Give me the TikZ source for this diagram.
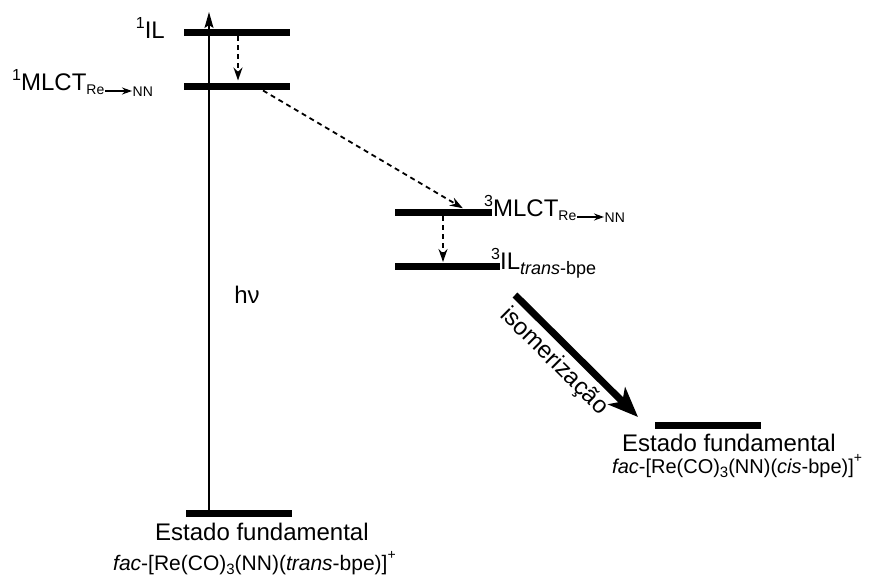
\documentclass[tikz,border=0pt]{standalone}
\usepackage{fontspec}
\setmainfont{Liberation Sans}
\usetikzlibrary{arrows.meta}

\newcommand{\spin}[1]{\raisebox{10pt}{\fontsize{16}{16}\selectfont #1}}
\newcommand{\renn}{\raisebox{-4pt}{\fontsize{14}{14}\selectfont Re\tikz[baseline]\draw[line width=1.4pt,-{Stealth[length=10pt,width=7pt]}] (0pt,4pt) -- (27pt,4pt);\raisebox{-2pt}{NN}}}
\newcommand{\fsub}[1]{\raisebox{-4pt}{\fontsize{15}{15}\selectfont #1}}
\newcommand{\fsup}[1]{\raisebox{11pt}{\fontsize{14}{14}\selectfont #1}}

\begin{document}
\begin{tikzpicture}[x=1pt,y=-1pt,
  level/.style={fill=black,minimum height=7pt,inner sep=0pt,outer sep=0pt},
  lbl/.style={font=\fontsize{24}{28}\selectfont,inner sep=0pt},
  formula/.style={font=\fontsize{21}{24}\selectfont,inner sep=0pt},
  decay/.style={line width=1.8pt,dash pattern=on 5pt off 4pt,-{Stealth[length=13pt,width=9pt]}},
  excite/.style={line width=1.3pt,-{Stealth[length=16pt,width=9pt,inset=3pt]}},
  iso/.style={line width=7pt,-{Stealth[length=30pt,width=24pt,inset=8pt]}}]
  \useasboundingbox (0,0) rectangle (871,577);

  \node[level,minimum width=106pt] (IL1) at (237,33) {};
  \node[level,minimum width=106pt] (MLCT1) at (237,87) {};
  \node[level,minimum width=97pt] (MLCT3) at (443.5,213) {};
  \node[level,minimum width=105pt] (IL3) at (447.5,267) {};
  \node[level,minimum width=106pt] (GStrans) at (239,513.5) {};
  \node[level,minimum width=106pt] (GScis) at (708,425.5) {};

  \node[lbl,anchor=base east] (tIL1) at (165,39) {\spin{1}IL};
  \node[lbl,anchor=base west] (tMLCT1) at (12,91) {\spin{1}MLCT\renn};
  \node[lbl,anchor=base west] (tMLCT3) at (484,217) {\spin{3}MLCT\renn};
  \node[lbl,anchor=base west] (tIL3) at (491,270) {\spin{3}IL\raisebox{-5pt}{\fontsize{18}{18}\selectfont\textit{trans}-bpe}};
  \node[lbl] (hv) at (247,295) {hν};

  \node[lbl,anchor=base west] (tGStrans) at (155,540) {Estado fundamental};
  \node[formula,anchor=base west] (fGStrans) at (113,570)
    {\textit{fac}-[Re(CO)\fsub{3}(NN)(\textit{trans}-bpe)]\fsup{+}};
  \node[lbl,anchor=base west] (tGScis) at (622,452) {Estado fundamental};
  \node[formula,font=\fontsize{20}{24}\selectfont,anchor=base west] (fGScis) at (612,474)
    {\textit{fac}-[Re(CO)\fsub{3}(NN)(\textit{cis}-bpe)]\fsup{+}};

  \coordinate (abs) at (209,12);
  \coordinate (isoA) at (515,295);
  \coordinate (isoB) at (638,417);

  \draw[excite] (GStrans.north -| abs) -- (abs);
  \draw[decay,shorten >=3pt] ([xshift=1pt]IL1.south) -- ([xshift=1pt]MLCT1.north);
  \draw[decay,shorten >=2.5pt] ([xshift=26pt]MLCT1.south) -- ([xshift=21.5pt]MLCT3.north);
  \draw[decay,shorten >=1.5pt] ([xshift=-0.5pt]MLCT3.south) -- ([xshift=-4.5pt]IL3.north);
  \draw[iso] (isoA) -- (isoB)
    node[lbl,pos=0.43,sloped,below=5pt] (tiso) {isomerização};
\end{tikzpicture}
\end{document}
